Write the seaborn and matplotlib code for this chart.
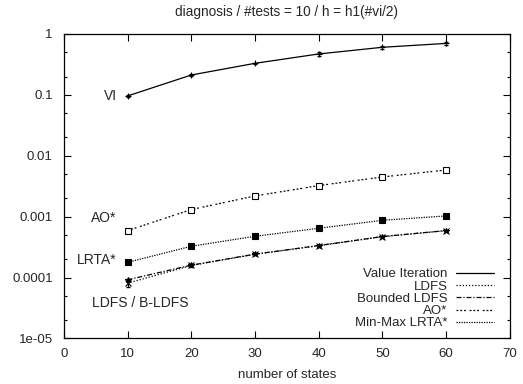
import numpy as np
import pandas as pd
import matplotlib
matplotlib.use("Agg")
import matplotlib.pyplot as plt
import seaborn as sns
from matplotlib.ticker import LogLocator, FixedLocator, NullFormatter

states = [10, 20, 30, 40, 50, 60]
vi = [0.096, 0.212, 0.33, 0.47, 0.605, 0.70]
ldfs = [0.000081, 0.000158, 0.000241, 0.000334, 0.00047, 0.00059]
bldfs = [0.000092, 0.000160, 0.000243, 0.000336, 0.000472, 0.000592]
aostar = [0.00059, 0.00131, 0.00219, 0.00324, 0.00449, 0.00585]
lrta = [0.000178, 0.000327, 0.000477, 0.000645, 0.000873, 0.00103]
vi_err = [0.003, 0.008, 0.01, 0.03, 0.03, 0.03]
ldfs_err = [0.000012, 0.000008, 0.000008, 0.00001, 0.00001, 0.00001]

series_names = ["Value Iteration", "LDFS", "Bounded LDFS", "AO*", "Min-Max LRTA*"]
xticks = [0, 10, 20, 30, 40, 50, 60, 70]
yticks = [1e-5, 1e-4, 1e-3, 1e-2, 1e-1, 1]
ytick_labels = ["1e-05", "0.0001", "0.001", "0.01", "0.1", "1"]

sns.set_style("ticks")
plt.rcParams["font.family"] = ["Liberation Sans", "DejaVu Sans"]
plt.rcParams["font.size"] = 9

fig = plt.figure(figsize=(5.23, 3.84), dpi=100)
ax = fig.add_axes([0.122, 0.1185, 0.853, 0.793])

styles = {
    "Value Iteration": dict(ls="-", marker="+", ms=4.5, mfc="black"),
    "LDFS": dict(ls=(0, (1, 1.5)), marker="x", ms=3.8, mfc="black"),
    "Bounded LDFS": dict(ls=(0, (4, 1.5, 1, 1.5)), marker="*", ms=4, mfc="black"),
    "AO*": dict(ls=(0, (1.5, 1.5, 1.5, 1.5, 1.5, 3)), marker="s", ms=3.8, mfc="white"),
    "Min-Max LRTA*": dict(ls=(0, (1, 1)), marker="s", ms=3.8, mfc="black"),
}
values = {"Value Iteration": vi, "LDFS": ldfs, "Bounded LDFS": bldfs,
          "AO*": aostar, "Min-Max LRTA*": lrta}

for name in series_names:
    df = pd.DataFrame({"x": states, "y": values[name]})
    st = styles[name]
    sns.lineplot(data=df, x="x", y="y", ax=ax, color="black", lw=0.9,
                 linestyle=st["ls"], marker=st["marker"], markersize=st["ms"],
                 markerfacecolor=st["mfc"], markeredgecolor="black",
                 markeredgewidth=0.8, label=name)

ax.errorbar(states, vi, yerr=vi_err, fmt="none", ecolor="black", elinewidth=0.8, capsize=1.5)
ax.errorbar(states, ldfs, yerr=ldfs_err, fmt="none", ecolor="black", elinewidth=0.8, capsize=1.5)

ax.set_yscale("log")
ax.set_xlim(0, 70)
ax.set_ylim(1e-5, 1)
ax.xaxis.set_major_locator(FixedLocator(xticks))
ax.set_xticks(xticks)
ax.set_xticklabels([str(t) for t in xticks])
ax.set_yticks(yticks)
ax.set_yticklabels(ytick_labels)
ax.yaxis.set_minor_locator(LogLocator(base=10, subs=(2.0, 5.0)))
ax.yaxis.set_minor_formatter(NullFormatter())
ax.tick_params(which="both", direction="in", top=True, right=True, color="black", width=0.8)
ax.tick_params(which="major", length=5, labelsize=9.5)
ax.tick_params(axis="y", which="major", pad=8)
ax.tick_params(axis="x", which="major", pad=7)
ax.tick_params(which="minor", length=2.5)
for s in ax.spines.values():
    s.set_linewidth(0.9)
    s.set_color("black")

ax.set_xlabel("number of states", fontsize=9.5, labelpad=6)
ax.set_ylabel("")
ax.set_title("diagnosis / #tests = 10 / h = h1(#vi/2)", fontsize=9.8, pad=13)

ax.text(8.4, vi[0], "VI", ha="right", va="center", fontsize=10)
ax.text(8.2, aostar[0] * 1.62, "AO*", ha="right", va="center", fontsize=10)
ax.text(8.2, lrta[0] * 1.09, "LRTA*", ha="right", va="center", fontsize=10)
ax.text(4.4, ldfs[0] * 0.47, "LDFS / B-LDFS", ha="left", va="center", fontsize=10)

leg = ax.legend(loc="lower right", bbox_to_anchor=(0.964, 0.03), frameon=False,
                markerfirst=False, handlelength=2.85, handletextpad=0.65,
                labelspacing=0.0, fontsize=9.5, borderaxespad=0, borderpad=0)
for h in leg.legend_handles:
    h.set_marker("")
    h.set_linewidth(0.9)

fig.savefig("out.png", dpi=100)
